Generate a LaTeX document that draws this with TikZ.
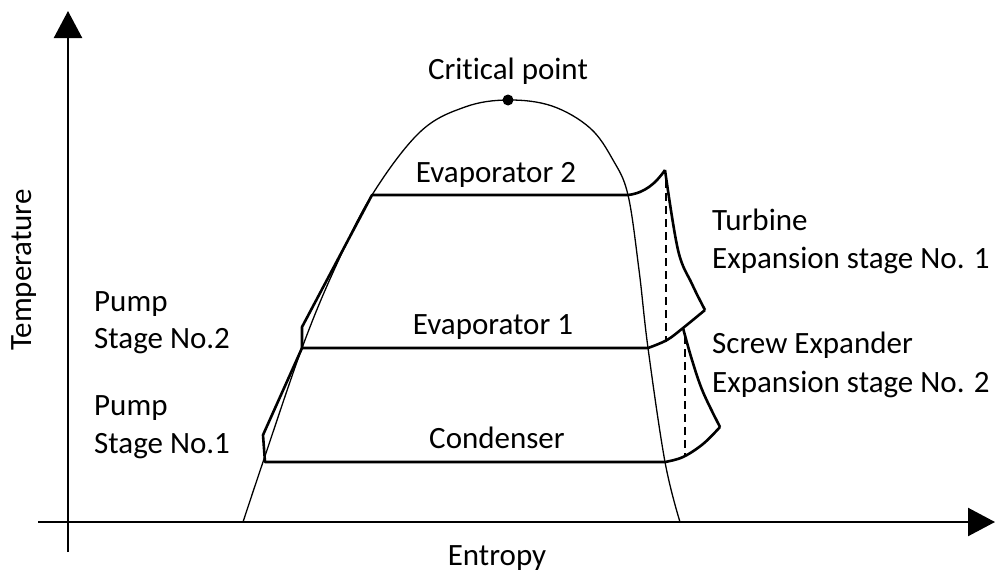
\documentclass[tikz,border=0pt]{standalone}
\usepackage{fontspec}
\setmainfont{Carlito}[Ligatures=NoCommon]
\usetikzlibrary{arrows.meta}
\begin{document}
\begin{tikzpicture}[x=1pt,y=-1pt,
  axis/.style={line width=2.4pt,-{Triangle[length=27pt,width=28pt]}},
  cyc/.style={line width=2.6pt,line join=round},
  domeline/.style={line width=1.3pt},
  dashline/.style={line width=2.2pt,dash pattern=on 8pt off 5pt},
  lbl/.style={font=\fontsize{31}{36}\selectfont,inner sep=0pt,anchor=base},
  lbll/.style={lbl,anchor=base west}]
\useasboundingbox (0,0) rectangle (995,573);
% axes
\coordinate (yb) at (68,552);
\coordinate (yt) at (68,11);
\coordinate (xl) at (38,522);
\coordinate (xr) at (995,522);
\draw[axis] (yb) -- (yt);
\draw[axis] (xl) -- (xr);
% dome
\draw[domeline] plot[smooth,tension=0.6] coordinates {(243,522) (263,462) (302,348) (335,268) (372,195) (420,132) (465,107) (508,100) (552,106) (590,128) (613,160) (628,195) (639,270) (648,348) (665,462) (680,522)};
\coordinate (cp) at (508,100);
\fill (cp) circle (5.5pt);
% cycle points
\coordinate (c1) at (265,462);
\coordinate (c2) at (665,462);
\coordinate (p1) at (263,435);
\coordinate (e1l) at (302,348);
\coordinate (e1r) at (648,348);
\coordinate (p2) at (302,327);
\coordinate (e2l) at (372,195);
\coordinate (e2r) at (628,195);
\coordinate (t1) at (665,170);
\coordinate (t2) at (705,310);
\coordinate (s1) at (683,328);
\coordinate (s2) at (720,427);
% cycle lines
\draw[cyc] (c2) -- (c1) -- (p1) -- (e1l) -- (e1r);
\draw[cyc] (e1l) -- (p2) -- (e2l) -- (e2r);
\draw[cyc] (e2r) .. controls (645,193) and (656,183) .. (t1);
\draw[cyc] plot[smooth,tension=0.6] coordinates {(665,170) (678,250) (692,284) (705,310)};
\draw[cyc] plot[smooth,tension=0.6] coordinates {(648,348) (667,340) (683,328) (705,310)};
\draw[cyc] plot[smooth,tension=0.6] coordinates {(683,328) (692,360) (703,392) (720,427)};
\draw[cyc] plot[smooth,tension=0.6] coordinates {(665,462) (683,457) (703,444) (720,427)};
% dashed isentropes
\coordinate (d1t) at (666,180);
\coordinate (d1b) at (666,342);
\coordinate (d2t) at (685,336);
\coordinate (d2b) at (685,456);
\draw[dashline] (d1t) -- (d1b);
\draw[dashline] (d2t) -- (d2b);
% labels
\node[lbl] (lcp) at (508,79) {Critical point};
\node[lbl] (lev2) at (496,182) {Evaporator 2};
\node[lbl] (lev1) at (493,334) {Evaporator 1};
\node[lbl] (lcon) at (497,448) {Condenser};
\node[lbll] (lp2a) at (94,311) {Pump};
\node[lbll] (lp2b) at (94,348) {Stage No.2};
\node[lbll] (lp1a) at (94,415) {Pump};
\node[lbll] (lp1b) at (94,453) {Stage No.1};
\node[lbll] (lta) at (712,230) {Turbine};
\node[lbll] (ltb) at (712,268) {Expansion stage No. 1};
\node[lbll] (lsa) at (712,353) {Screw Expander};
\node[lbll] (lsb) at (712,392) {Expansion stage No. 2};
\node[lbl] (lent) at (497,565) {Entropy};
\node[lbl,rotate=90] (ltemp) at (31,270) {Temperature};
\end{tikzpicture}
\end{document}
